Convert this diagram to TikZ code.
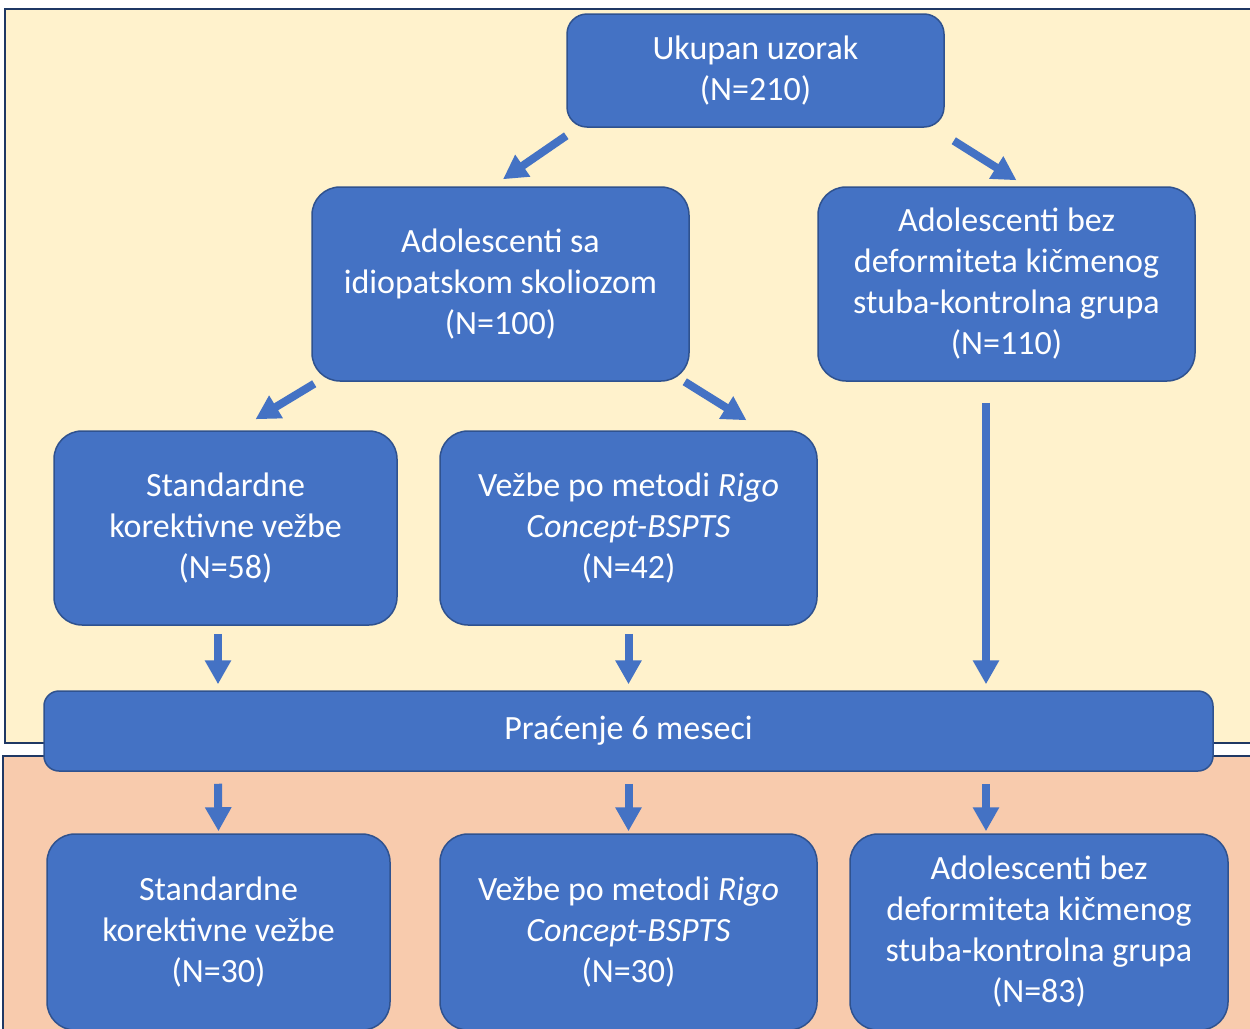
\documentclass[tikz,border=0pt]{standalone}
\usepackage{fontspec}
\setmainfont{Carlito}
\usetikzlibrary{calc, positioning, arrows.meta}
\definecolor{boxblue}{HTML}{4472C4}
\definecolor{boxline}{HTML}{2F528F}
\definecolor{paneltop}{HTML}{FFF2CC}
\definecolor{panelbot}{HTML}{F8CBAD}
\definecolor{panelline}{HTML}{1F3864}
\begin{document}
\begin{tikzpicture}[x=1pt,y=-1pt,
        box/.style={draw=boxline, line width=1.5pt, fill=boxblue, text=white, rounded corners=28pt,
            align=center, inner sep=0pt, font=\fontsize{34}{41}\selectfont},
        arr/.style={draw=boxblue, line width=8pt, -{Triangle[length=24pt,width=25pt]}}]
        \useasboundingbox (0,0) rectangle (1250,1028);
        % panels
        \draw[panelline, line width=2pt, fill=paneltop] (5,9) rectangle (1270,743);
        \draw[panelline, line width=2pt, fill=panelbot] (3,756) rectangle (1270,1050);
        % boxes
        \node[box, minimum width=377pt, minimum height=113pt, rounded corners=20pt] (total) at (755.5,70.5) {Ukupan uzorak\\(N=210)};
        \node[box, minimum width=377pt, minimum height=194pt] (idio) at (500.5,284) {Adolescenti sa\\idiopatskom skoliozom\\(N=100)};
        \node[box, minimum width=377pt, minimum height=194pt] (ctrl) at (1006.5,284) {Adolescenti bez\\deformiteta kičmenog\\stuba-kontrolna grupa\\(N=110)};
        \node[box, minimum width=343pt, minimum height=194pt] (std) at (225.5,528) {Standardne\\korektivne vežbe\\(N=58)};
        \node[box, minimum width=377pt, minimum height=194pt] (rigo) at (628.5,528) {Vežbe po metodi \textit{Rigo}\\\textit{Concept-BSPTS}\\(N=42)};
        \node[box, minimum width=1169pt, minimum height=80pt, rounded corners=15pt] (follow) at (628.5,731) {Praćenje 6 meseci};
        \node[box, minimum width=343pt, minimum height=196pt] (stdend) at (218.5,932) {Standardne\\korektivne vežbe\\(N=30)};
        \node[box, minimum width=377pt, minimum height=196pt] (rigoend) at (628.5,932) {Vežbe po metodi \textit{Rigo}\\\textit{Concept-BSPTS}\\(N=30)};
        \node[box, minimum width=378pt, minimum height=196pt] (ctrlend) at (1039,932) {Adolescenti bez\\deformiteta kičmenog\\stuba-kontrolna grupa\\(N=83)};
        % arrows
        \draw[arr] ($(total.south west)+(0,8)$) -- ($(idio.north)+(2.5,-7)$);
        \draw[arr] ($(total.south east)+(9,13)$) -- ($(ctrl.north)+(10,-6)$);
        \draw[arr] ($(idio.south west)+(3,2)$) -- ($(std.north)+(30,-11)$);
        \draw[arr] ($(idio.south east)+(-5,0)$) -- ($(rigo.north)+(118,-10)$);
        \draw[arr] ($(std.south)+(-7.5,8)$) -- ($(follow.north)+(-410.5,-6)$);
        \draw[arr] ($(rigo.south)+(0,8)$) -- ($(follow.north)+(0,-6)$);
        \draw[arr] ($(ctrl.south)+(-20.5,21)$) -- ($(follow.north)+(357.5,-6)$);
        \draw[arr] ($(follow.south)+(-410.5,12)$) -- ($(stdend.north)+(0,-2)$);
        \draw[arr] ($(follow.south)+(0,12)$) -- ($(rigoend.north)+(0,-2)$);
        \draw[arr] ($(follow.south)+(357.5,12)$) -- ($(ctrlend.north)+(-53,-2)$);
\end{tikzpicture}
\end{document}
